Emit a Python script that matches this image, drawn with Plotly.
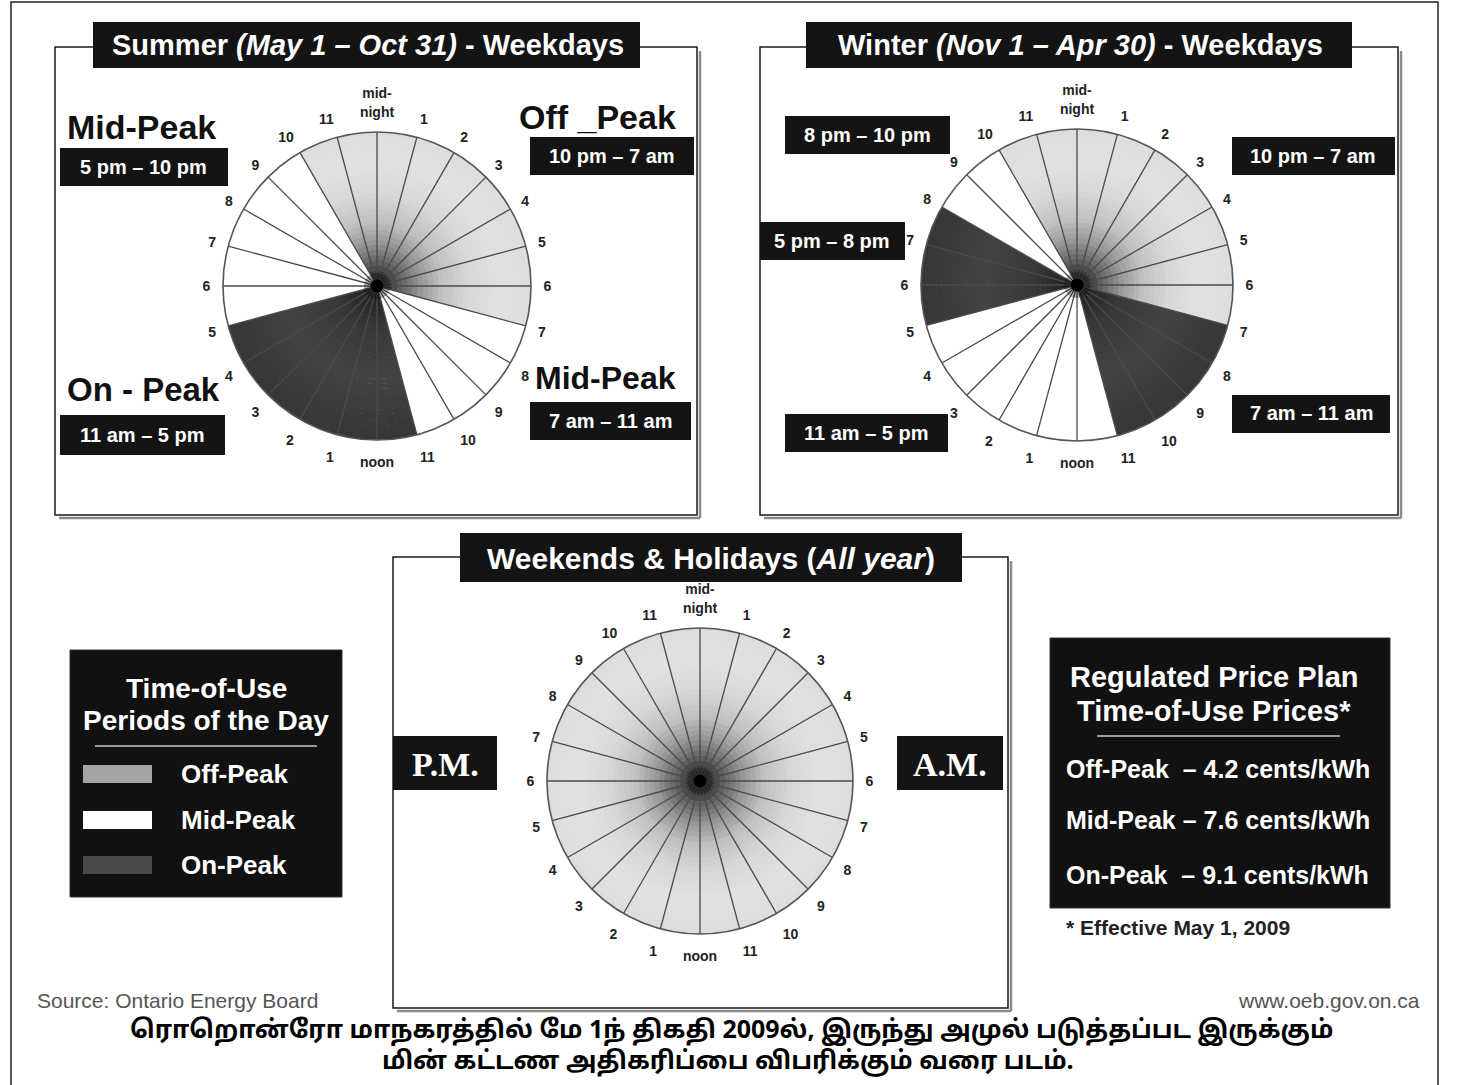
import numpy as np
import plotly.graph_objects as go

W, H = 1457, 1085

# ---------------- data ----------------
hours = list(range(24))
hour_labels = ["mid-<br>night", "1", "2", "3", "4", "5", "6", "7", "8", "9", "10", "11",
               "noon", "1", "2", "3", "4", "5", "6", "7", "8", "9", "10", "11"]
summer_periods = ["off"] * 7 + ["mid"] * 4 + ["on"] * 6 + ["mid"] * 5 + ["off"] * 2
winter_periods = ["off"] * 7 + ["on"] * 4 + ["mid"] * 6 + ["on"] * 3 + ["mid"] * 2 + ["off"] * 2
weekend_periods = ["off"] * 24
price_labels = ["Off-Peak\u00a0 – 4.2 cents/kWh", "Mid-Peak – 7.6 cents/kWh", "On-Peak\u00a0 – 9.1 cents/kWh"]
legend_labels = ["Off-Peak", "Mid-Peak", "On-Peak"]

# ---------------- styling helpers ----------------
NB = 30
grad_ctrl = {
    "off": ([0, 0.06, 0.15, 0.28, 0.42, 0.6, 0.8, 1.0], [20, 45, 95, 150, 192, 216, 225, 221]),
    "on": ([0, 0.1, 0.3, 0.6, 1.0], [15, 38, 58, 66, 55]),
    "mid": ([0, 1], [255, 255]),
}


def shade(period, r):
    xs, ys = grad_ctrl[period]
    g = int(round(np.interp(r, xs, ys)))
    return f"rgb({g},{g},{g})"


def px(x):
    return x / W


def py(y):
    return 1 - y / H


fig = go.Figure()

pies = [
    ("polar", summer_periods, 377, 286, 154),
    ("polar2", winter_periods, 1077, 285, 156),
    ("polar3", weekend_periods, 700, 781, 153),
]

for name, periods, cx, cy, R in pies:
    th, base, rr, cols = [], [], [], []
    for h in hours:
        for k in range(NB):
            th.append(h * 15 + 7.5)
            base.append(k / NB)
            rr.append(1 / NB + 0.004)
            cols.append(shade(periods[h], (k + 0.5) / NB))
    fig.add_trace(go.Barpolar(
        theta=th, r=rr, base=base, width=[15] * len(th),
        marker=dict(color=cols, line=dict(width=0)),
        subplot=name, showlegend=False, hoverinfo="skip"))
    # spokes
    sr, st = [], []
    for h in hours:
        sr += [0, 1, None]
        st += [h * 15, h * 15, None]
    fig.add_trace(go.Scatterpolar(r=sr, theta=st, mode="lines",
                                  line=dict(color="#4a4a4a", width=1.3),
                                  subplot=name, showlegend=False, hoverinfo="skip"))
    # centre dot
    fig.add_trace(go.Scatterpolar(r=[0], theta=[0], mode="markers",
                                  marker=dict(color="rgba(0,0,0,0.3)", size=26),
                                  subplot=name, showlegend=False, hoverinfo="skip"))
    fig.add_trace(go.Scatterpolar(r=[0], theta=[0], mode="markers",
                                  marker=dict(color="black", size=13),
                                  subplot=name, showlegend=False, hoverinfo="skip"))
    fig.update_layout(**{name: dict(
        domain=dict(x=[px(cx - R), px(cx + R)], y=[py(cy + R), py(cy - R)]),
        bgcolor="white",
        radialaxis=dict(visible=False, range=[0, 1]),
        angularaxis=dict(
            rotation=90, direction="clockwise",
            tickmode="array", tickvals=[h * 15 for h in hours],
            ticktext=[f"<b>{t}</b>" for t in hour_labels],
            tickfont=dict(family="Liberation Sans, Arial", size=14, color="#222"),
            ticks="outside", ticklen=9, tickcolor="rgba(0,0,0,0)",
            showgrid=False, showline=True, linecolor="#555", linewidth=1.6),
        barmode="overlay",
    )})

shapes = []
annotations = []


def rect(x0, y0, x1, y1, fill="#141414", line=None, lw=0, layer="above"):
    shapes.append(dict(type="rect", xref="paper", yref="paper",
                       x0=px(x0), x1=px(x1), y0=py(y1), y1=py(y0),
                       fillcolor=fill, line=dict(color=line or "rgba(0,0,0,0)", width=lw),
                       layer=layer))


def line(x0, y0, x1, y1, color="black", w=1.5, layer="above"):
    shapes.append(dict(type="line", xref="paper", yref="paper",
                       x0=px(x0), x1=px(x1), y0=py(y0), y1=py(y1),
                       line=dict(color=color, width=w), layer=layer))


def text(x, y, s, size, color="white", xanchor="center", family="Liberation Sans, Arial"):
    annotations.append(dict(x=px(x), y=py(y), xref="paper", yref="paper", text=s,
                            showarrow=False, xanchor=xanchor, yanchor="middle",
                            font=dict(family=family, size=size, color=color)))


def panel(x0, y0, x1, y1):
    line(x1 + 3, y0 + 4, x1 + 3, y1 + 3, color="#8a8a8a", w=2.5, layer="below")
    line(x0 + 4, y1 + 3, x1 + 3, y1 + 3, color="#8a8a8a", w=2.5, layer="below")
    rect(x0, y0, x1, y1, fill="rgba(0,0,0,0)", line="#1a1a1a", lw=1.5, layer="below")


# outer frame
rect(11, 2, 1438, 1095, fill="rgba(0,0,0,0)", line="#222", lw=1.5, layer="below")

# panels
panel(55, 47, 697, 515)
panel(760, 47, 1398, 515)
panel(393, 557, 1008, 1008)

# titles
rect(93, 22, 640, 68)
text(368, 45, "<b>Summer <i>(May 1 – Oct 31)</i> - Weekdays</b>", 29)
rect(806, 22, 1352, 68)
text(1080, 45, "<b>Winter <i>(Nov 1 – Apr 30)</i> - Weekdays</b>", 29)
rect(460, 533, 962, 582)
text(711, 558, "<b>Weekends &amp; Holidays (<i>All year</i>)</b>", 30)

# summer labels
text(141, 127, "<b>Mid-Peak</b>", 34, color="#111")
rect(60, 148, 228, 186)
text(143, 167, "<b>5 pm – 10 pm</b>", 20)
text(597, 117, "<b>Off _Peak</b>", 34, color="#111")
rect(530, 137, 694, 175)
text(612, 156, "<b>10 pm – 7 am</b>", 20)
text(143, 389, "<b>On - Peak</b>", 33, color="#111")
rect(60, 415, 225, 455)
text(142, 435, "<b>11 am – 5 pm</b>", 20)
text(605, 378, "<b>Mid-Peak</b>", 32, color="#111")
rect(530, 402, 691, 440)
text(610, 421, "<b>7 am – 11 am</b>", 20)

# winter labels
rect(785, 116, 950, 154)
text(867, 135, "<b>8 pm – 10 pm</b>", 20)
rect(1232, 137, 1395, 175)
text(1313, 156, "<b>10 pm – 7 am</b>", 20)
rect(760, 222, 905, 260)
text(832, 241, "<b>5 pm – 8 pm</b>", 20)
rect(785, 414, 948, 452)
text(866, 433, "<b>11 am – 5 pm</b>", 20)
rect(1232, 395, 1390, 433)
text(1311, 413, "<b>7 am – 11 am</b>", 20)

# weekend labels
rect(393, 736, 497, 790)
text(445, 764, "<b>P.M.</b>", 34, family="Liberation Serif, Times New Roman")
rect(897, 736, 1003, 790)
text(950, 764, "<b>A.M.</b>", 34, family="Liberation Serif, Times New Roman")

# legend box
rect(70, 650, 342, 897, fill="#111", line="#333", lw=1)
text(206, 688, "<b>Time-of-Use</b>", 28)
text(206, 720, "<b>Periods of the Day</b>", 28)
line(95, 746, 317, 746, color="#9a9a9a", w=2)
sw_cols = ["#a4a4a4", "#ffffff", "#4a4a4a"]
sw_y = [774, 820, 865]
for lab, c, yy in zip(legend_labels, sw_cols, sw_y):
    rect(83, yy - 9, 152, yy + 9, fill=c)
    text(179, yy, f"<b>{lab}</b>", 26, xanchor="left")

# price box
rect(1050, 638, 1390, 908, fill="#111", line="#333", lw=1)
text(1214, 677, "<b>Regulated Price Plan</b>", 29)
text(1214, 711, "<b>Time-of-Use Prices*</b>", 29)
line(1097, 736, 1340, 736, color="#9a9a9a", w=2)
for lab, yy in zip(price_labels, [769, 820, 875]):
    text(1064, yy, f"<b>{lab}</b>", 25, xanchor="left")
text(1064, 927, "<b>* Effective May 1, 2009</b>", 21, color="#222", xanchor="left")

# source + url
text(35, 1000, "Source: Ontario Energy Board", 21, color="#555", xanchor="left")
text(1422, 1000, "www.oeb.gov.on.ca", 21, color="#555", xanchor="right")

# Tamil caption
tamil_family = "Noto Sans Tamil, Lohit Tamil, Latha, Noto Sans, sans-serif"
text(731, 1031, "<b>ரொறொன்ரோ மாநகரத்தில் மே 1ந் திகதி 2009ல், இருந்து அமுல் படுத்தப்பட இருக்கும்</b>",
     25, color="black", family=tamil_family)
text(728, 1062, "<b>மின் கட்டண அதிகரிப்பை விபரிக்கும் வரை படம்.</b>",
     25, color="black", family=tamil_family)

fig.update_layout(width=W, height=H, margin=dict(l=0, r=0, t=0, b=0),
                  paper_bgcolor="white", plot_bgcolor="white",
                  shapes=shapes, annotations=annotations, showlegend=False)

fig.write_html("out.html", config={"displayModeBar": False},
               post_script="document.body.style.margin='0';document.body.style.overflow='hidden';")
